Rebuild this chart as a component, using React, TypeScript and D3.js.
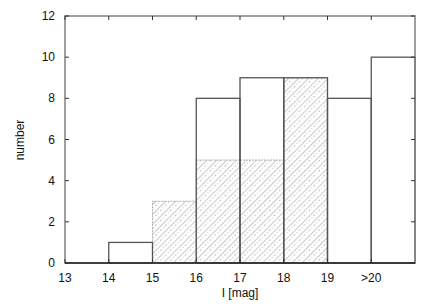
import * as d3 from 'd3';
import React from 'react';

const binStarts = [13, 14, 15, 16, 17, 18, 19, 20];
const totalCounts = [0, 1, 0, 8, 9, 9, 8, 10];
const hatchedCounts = [0, 0, 3, 5, 5, 9, 0, 0];
const xTickValues = [13, 14, 15, 16, 17, 18, 19, 20];
const xTickLabels = ['13', '14', '15', '16', '17', '18', '19', '>20'];
const yTickValues = [0, 2, 4, 6, 8, 10, 12];

const width = 436;
const height = 306;
const margin = { left: 65, right: 21, top: 16, bottom: 43 };

export default function App() {
    const x = d3.scaleLinear([13, 21], [margin.left, width - margin.right]);
    const y = d3.scaleLinear([0, 12], [height - margin.bottom, margin.top]);
    const font = 'Liberation Sans, Arial, sans-serif';
    const frame = '#808080';

    return (
        <svg width={width} height={height} style={{ position: 'absolute', left: 0, top: 0 }}>
            <defs>
                <pattern id="hatch" patternUnits="userSpaceOnUse" width={7} height={7} patternTransform="rotate(45)">
                    <line x1={0} y1={0} x2={0} y2={7} stroke="#777" strokeWidth={0.8} />
                    <line x1={3.5} y1={0} x2={3.5} y2={7} stroke="#aaa" strokeWidth={0.7} strokeDasharray="1,2" />
                </pattern>
            </defs>
            <rect x={0} y={0} width={width} height={height} fill="white" />

            {/* hatched bars */}
            {binStarts.map((b, i) => hatchedCounts[i] > 0 && (
                <rect key={'h' + i} x={x(b)} y={y(hatchedCounts[i])} width={x(b + 1) - x(b)}
                    height={y(0) - y(hatchedCounts[i])} fill="url(#hatch)" stroke="#999" strokeWidth={0.8} strokeDasharray="2,1" />
            ))}

            {/* open bars */}
            {binStarts.map((b, i) => totalCounts[i] > 0 && (
                <rect key={'o' + i} x={x(b)} y={y(totalCounts[i])} width={x(b + 1) - x(b)}
                    height={y(0) - y(totalCounts[i])} fill="none" stroke="#555" strokeWidth={1.3} />
            ))}

            {/* frame */}
            <rect x={margin.left} y={margin.top} width={width - margin.left - margin.right}
                height={height - margin.top - margin.bottom} fill="none" stroke={frame} strokeWidth={1.5} />
            <line x1={margin.left} x2={width - margin.right} y1={y(0)} y2={y(0)} stroke="#222" strokeWidth={1.3} />

            {xTickValues.map((v, i) => (
                <g key={'xt' + i}>
                    <line x1={x(v)} x2={x(v)} y1={y(0)} y2={y(0) - 4} stroke="#333" />
                    <line x1={x(v)} x2={x(v)} y1={y(12)} y2={y(12) + 4} stroke="#333" />
                    <text x={x(v)} y={y(0) + 19} textAnchor="middle" fontFamily={font} fontSize={12} fill="#111">{xTickLabels[i]}</text>
                </g>
            ))}
            {yTickValues.map(v => (
                <g key={'yt' + v}>
                    <line x1={margin.left} x2={margin.left + 4} y1={y(v)} y2={y(v)} stroke="#333" />
                    <line x1={width - margin.right} x2={width - margin.right - 4} y1={y(v)} y2={y(v)} stroke="#333" />
                    <text x={margin.left - 10} y={y(v) + 4} textAnchor="end" fontFamily={font} fontSize={12} fill="#111">{v}</text>
                </g>
            ))}

            <text x={240} y={297} textAnchor="middle" fontFamily={font} fontSize={12} fill="#111">I [mag]</text>
            <text transform={`translate(24, 140) rotate(-90)`} textAnchor="middle" fontFamily={font} fontSize={12} fill="#111">number</text>
        </svg>
    );
}
